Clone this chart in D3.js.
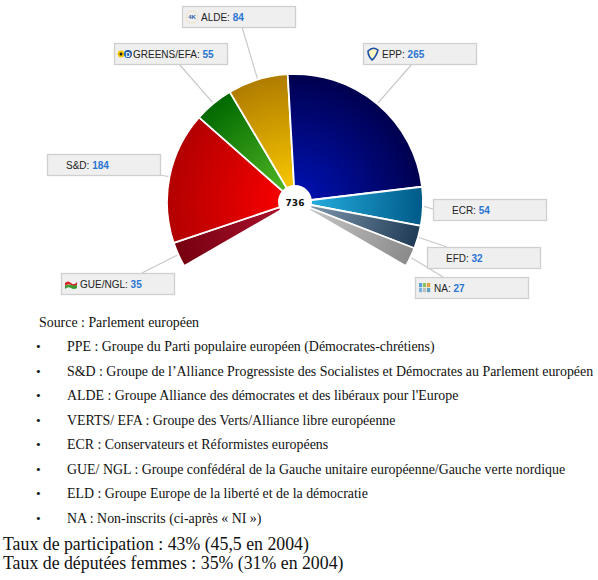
<!DOCTYPE html>
<html>
<head>
<meta charset="utf-8">
<script src="https://cdn.jsdelivr.net/npm/d3@7"></script>
<style>
  body { margin: 0; background: #fff; }
  svg { display: block; }
</style>
</head>
<body>
<div id="chart"></div>
<script>
// Seats per group, in hemicycle order (left to right)
var groups = ["GUE/NGL", "S&D", "GREENS/EFA", "ALDE", "EPP", "ECR", "EFD", "NA"];
var seats = [35, 184, 55, 84, 265, 54, 32, 27];
var total = 736;

// Notes below the chart
var source = "Source : Parlement européen";
var notes = [
    "PPE : Groupe du Parti populaire européen (Démocrates-chrétiens)",
    "S&D : Groupe de l\u2019Alliance Progressiste des Socialistes et Démocrates au Parlement européen",
    "ALDE : Groupe Alliance des démocrates et des libéraux pour l'Europe",
    "VERTS/ EFA : Groupe des Verts/Alliance libre européenne",
    "ECR : Conservateurs et Réformistes européens",
    "GUE/ NGL : Groupe confédéral de la Gauche unitaire européenne/Gauche verte nordique",
    "ELD : Groupe Europe de la liberté et de la démocratie",
    "NA : Non-inscrits (ci-après « NI »)"
];
var footer = [
    "Taux de participation : 43% (45,5 en 2004)",
    "Taux de députées femmes : 35% (31% en 2004)"
];

// slice colours (inner, outer)
var innerCol = ["#a8102c", "#f40000", "#4cb222", "#f4c300", "#0010a8", "#22aadb", "#7a94a9", "#c4c4c4"];
var outerCol = ["#760010", "#b20000", "#006800", "#b07c00", "#00004e", "#005a88", "#1f3a55", "#8a8a8a"];

// label boxes: x, y, anchor point of the connector line
var boxes = [
    { x: 61, y: 273, ax: 142, ay: 273 },
    { x: 47, y: 154, ax: 159, ay: 175 },
    { x: 114, y: 43, ax: 179, ay: 64 },
    { x: 182, y: 6, ax: 242, ay: 27 },
    { x: 363, y: 43, ax: 412, ay: 64 },
    { x: 433, y: 199, ax: 433, ay: 209 },
    { x: 427, y: 247, ax: 447, ay: 247 },
    { x: 415, y: 277, ax: 443, ay: 277 }
];

var width = 598, height = 580;
var cx = 295, cy = 202;
var rIn = 17, rOut = 128;
var boxW = 113, boxH = 21;

var svg = d3.select("#chart").append("svg")
    .attr("width", width).attr("height", height);

var defs = svg.append("defs");

var pie = d3.pie()
    .sort(null)
    .startAngle(-120 * Math.PI / 180)
    .endAngle(120 * Math.PI / 180);
var arcs = pie(seats);

var arc = d3.arc().innerRadius(0).outerRadius(rOut);

// radial gradients, lighter toward the centre
arcs.forEach(function(d, i) {
    var g = defs.append("radialGradient")
        .attr("id", "grad" + i)
        .attr("gradientUnits", "userSpaceOnUse")
        .attr("cx", 0).attr("cy", 0).attr("r", rOut);
    g.append("stop").attr("offset", 0.15).attr("stop-color", innerCol[i]);
    g.append("stop").attr("offset", 1).attr("stop-color", outerCol[i]);
});

// connector lines
var lineG = svg.append("g");
arcs.forEach(function(d, i) {
    var mid = (d.startAngle + d.endAngle) / 2;
    var px = cx + (rOut + 1) * Math.sin(mid);
    var py = cy - (rOut + 1) * Math.cos(mid);
    lineG.append("line")
        .attr("x1", px).attr("y1", py)
        .attr("x2", boxes[i].ax).attr("y2", boxes[i].ay)
        .attr("stroke", "#c8c8c8")
        .attr("stroke-width", 1.2);
});

var pieG = svg.append("g").attr("transform", "translate(" + cx + "," + cy + ")");

pieG.selectAll("path")
    .data(arcs).enter()
    .append("path")
    .attr("d", arc)
    .attr("fill", function(d, i) { return "url(#grad" + i + ")"; })
    .attr("stroke", "white")
    .attr("stroke-width", 1.8)
    .attr("stroke-linejoin", "round");

pieG.append("circle").attr("r", rIn).attr("fill", "white");
pieG.append("text")
    .attr("text-anchor", "middle")
    .attr("y", 3.5)
    .attr("font-family", "DejaVu Sans")
    .attr("font-weight", "bold")
    .attr("font-size", 9)
    .attr("fill", "#111")
    .text(total);

// label boxes
var labelG = svg.append("g");
boxes.forEach(function(b, i) {
    var g = labelG.append("g").attr("transform", "translate(" + b.x + "," + b.y + ")");
    g.append("rect")
        .attr("x", 0.5).attr("y", 0.5)
        .attr("width", boxW).attr("height", boxH)
        .attr("fill", "#efefef")
        .attr("stroke", "#cfcfcf")
        .attr("stroke-width", 1.3);
    var t = g.append("text")
        .attr("x", 19).attr("y", 14.5)
        .attr("font-family", "Liberation Sans, Arial")
        .attr("font-size", 10);
    t.append("tspan").attr("fill", "#222").text(groups[i] + ":  ");
    t.append("tspan").attr("fill", "#2a75d2").attr("font-weight", "bold").text(seats[i]);
    drawIcon(g, groups[i]);
});

// small party logos
function drawIcon(g, name) {
    var ic = g.append("g").attr("transform", "translate(3,4)");
    if (name == "EPP") {
        ic.append("path").attr("d", "M2,4 Q7,-1 12,3 Q10,10 6,13 Q2,9 2,4Z")
            .attr("fill", "#fff6c0").attr("stroke", "#1b4ea8").attr("stroke-width", 1.6);
    } else if (name == "ALDE") {
        ic.append("circle").attr("cx", 7).attr("cy", 7).attr("r", 6)
            .attr("fill", "none").attr("stroke", "#f0d070").attr("stroke-width", 0.8)
            .attr("stroke-dasharray", "1,1.2");
        ic.append("text").attr("x", 7).attr("y", 9).attr("text-anchor", "middle")
            .attr("font-family", "Liberation Sans").attr("font-size", 6).attr("font-weight", "bold")
            .attr("fill", "#3560a8").text("4K");
    } else if (name == "GREENS/EFA") {
        ic.append("circle").attr("cx", 4).attr("cy", 7).attr("r", 3.4).attr("fill", "#f2c600");
        ic.append("circle").attr("cx", 4).attr("cy", 7).attr("r", 1.5).attr("fill", "#222");
        ic.append("circle").attr("cx", 11).attr("cy", 7).attr("r", 4).attr("fill", "#1a5aa8");
        ic.append("text").attr("x", 11).attr("y", 9.5).attr("text-anchor", "middle")
            .attr("font-family", "Liberation Sans").attr("font-size", 7).attr("font-weight", "bold")
            .attr("fill", "#fff").text("D");
    } else if (name == "GUE/NGL") {
        ic.append("path").attr("d", "M1,6 Q4,3 7,6 T13,5 L13,8 Q10,10 7,8 T1,9Z").attr("fill", "#d42020");
        ic.append("path").attr("d", "M1,9 Q4,7 7,8 T13,8 L13,11 Q10,13 7,11 T1,12Z").attr("fill", "#3a9a30");
    } else if (name == "NA") {
        var cols = ["#5aa0d8", "#8cc060", "#e0a040", "#7ab0e0", "#c0c0c0", "#60a0c0"];
        cols.forEach(function(c, k) {
            ic.append("rect").attr("x", 1 + (k % 3) * 4).attr("y", 2 + Math.floor(k / 3) * 5)
                .attr("width", 3.2).attr("height", 4.2).attr("fill", c);
        });
    }
}

// notes
var notesG = svg.append("g")
    .attr("font-family", "Liberation Serif, Times New Roman")
    .attr("fill", "#111");

notesG.append("text")
    .attr("x", 39).attr("y", 327)
    .attr("font-size", 13.9)
    .text(source);

notes.forEach(function(n, i) {
    var y = 351 + i * 24.5;
    notesG.append("text").attr("x", 36).attr("y", y).attr("font-size", 13.5).text("\u2022");
    notesG.append("text").attr("x", 67).attr("y", y).attr("font-size", 13.9).text(n);
});

footer.forEach(function(f, i) {
    notesG.append("text")
        .attr("x", 3).attr("y", 550 + i * 19)
        .attr("font-size", 17.8)
        .text(f);
});
</script>
</body>
</html>
